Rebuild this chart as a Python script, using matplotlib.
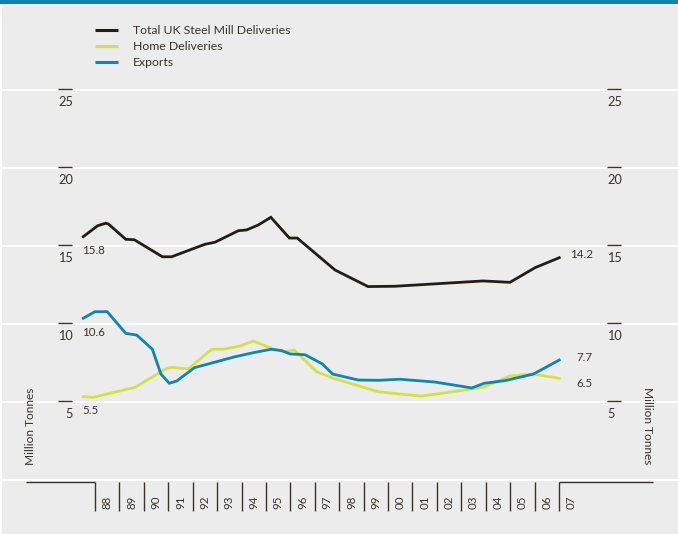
import matplotlib
matplotlib.use('Agg')
import matplotlib.pyplot as plt
from matplotlib.lines import Line2D
from matplotlib.patches import Rectangle

# ---------------- data ----------------
series_names = ['Total UK Steel Mill Deliveries', 'Home Deliveries', 'Exports']

total_x = [1987.52, 1988.11, 1988.44, 1988.55, 1989.26, 1989.61, 1990.76, 1991.14,
           1992.50, 1992.91, 1993.87, 1994.21, 1994.69, 1995.20, 1995.96, 1996.28,
           1997.83, 1999.18, 2000.29, 2003.90, 2004.99, 2006.02, 2007.01]
total_y = [15.60, 16.30, 16.46, 16.41, 15.43, 15.40, 14.31, 14.31,
           15.11, 15.24, 15.98, 16.03, 16.35, 16.84, 15.51, 15.51,
           13.46, 12.40, 12.42, 12.76, 12.67, 13.61, 14.25]

home_x = [1987.52, 1987.93, 1989.64, 1990.94, 1991.14, 1991.82, 1992.78, 1993.25,
          1993.94, 1994.48, 1995.24, 1995.78, 1996.16, 1997.08, 1997.76, 1999.60,
          2000.49, 2001.38, 2003.90, 2004.99, 2005.95, 2007.01]
home_y = [5.34, 5.30, 5.94, 7.16, 7.22, 7.12, 8.38, 8.38,
          8.59, 8.91, 8.44, 8.22, 8.33, 6.94, 6.52, 5.66,
          5.51, 5.38, 5.94, 6.67, 6.79, 6.52]

export_x = [1987.52, 1988.00, 1988.50, 1989.26, 1989.71, 1990.35, 1990.70, 1991.04,
            1991.35, 1992.07, 1993.73, 1994.48, 1995.21, 1995.65, 1995.99, 1996.60,
            1997.31, 1997.73, 1998.78, 1999.60, 2000.49, 2001.92, 2003.43, 2003.94,
            2004.79, 2005.95, 2007.01]
export_y = [10.37, 10.79, 10.79, 9.40, 9.29, 8.38, 6.79, 6.20,
            6.35, 7.20, 7.90, 8.16, 8.38, 8.29, 8.08, 8.03,
            7.44, 6.79, 6.41, 6.39, 6.46, 6.28, 5.90, 6.20,
            6.37, 6.79, 7.69]

start_labels = ['15.8', '5.5', '10.6']
end_labels = ['14.2', '6.5', '7.7']

years = list(range(1988, 2008))
year_labels = ['88', '89', '90', '91', '92', '93', '94', '95', '96', '97',
               '98', '99', '00', '01', '02', '03', '04', '05', '06', '07']
y_ticks = [5, 10, 15, 20, 25]
axis_title = 'Million Tonnes'

# ---------------- style ----------------
W, H, DPI = 678, 534, 100
BG = '#ebeceb'
BAR = '#0a86b6'
TXT = '#3a3328'
C_TOTAL = '#261d12'
C_HOME = '#d6e043'
C_EXP = '#0b86b8'
plt.rcParams['font.family'] = ['Lato', 'DejaVu Sans']

PPY = 24.4211   # px per year
PPV = 15.6      # px per million tonnes
X0PX, Y0PX = 95, 480

def px2x(px):
    return 1988 + (px - X0PX) / PPY

def py2y(py):
    return (Y0PX - py) / PPV

fig = plt.figure(figsize=(W / DPI, H / DPI), dpi=DPI, facecolor='white')
fig.patches.append(Rectangle((2 / W, 0), 1 - 2 / W, 1, transform=fig.transFigure,
                             facecolor=BG, edgecolor='none', zorder=-2))
fig.patches.append(Rectangle((0, 1 - 3.5 / H), 1, 3.5 / H, transform=fig.transFigure,
                             facecolor=BAR, edgecolor='none', zorder=-1))

ax = fig.add_axes([0, 0, 1, 1])
ax.set_axis_off()
ax.set_xlim(px2x(0), px2x(W))
ax.set_ylim(py2y(H), py2y(0))

# gridlines
for v in [0] + y_ticks:
    ax.axhline(v, xmin=2 / W, xmax=1, color='white', lw=1.3, zorder=1)

# y tick marks + labels (both sides)
for v in y_ticks:
    ax.plot([px2x(58), px2x(72)], [v + 0.05, v + 0.05], color=TXT, lw=1.0, zorder=2,
            solid_capstyle='butt')
    ax.plot([px2x(607), px2x(621)], [v + 0.05, v + 0.05], color=TXT, lw=1.0, zorder=2,
            solid_capstyle='butt')
    ax.text(px2x(73), v - 12.5 / PPV, str(v), ha='right', va='center', fontsize=9.2, color=TXT)
    ax.text(px2x(607), v - 12.5 / PPV, str(v), ha='left', va='center', fontsize=9.2, color=TXT)

# x axis bracket and separators
ax.vlines(years, py2y(511), py2y(481.5), color=TXT, lw=1.0, zorder=2)
ax.plot([px2x(26), years[0]], [py2y(481.5)] * 2, color=TXT, lw=1.0, zorder=2,
        solid_capstyle='butt')
ax.plot([years[-1], px2x(653)], [py2y(481.5)] * 2, color=TXT, lw=1.0, zorder=2,
        solid_capstyle='butt')
for yr, lab in zip(years, year_labels):
    ax.text(yr + 0.5, py2y(502), lab, rotation=90, ha='center', va='center',
            fontsize=8.3, color=TXT)

# data lines
series = [(total_x, total_y, C_TOTAL), (home_x, home_y, C_HOME), (export_x, export_y, C_EXP)]
for (xs, ys, c) in series:
    ax.plot(xs, ys, color=c, lw=2.0, zorder=3, solid_joinstyle='miter')

# start / end labels
end_offsets = [(11, 3), (17, -5), (17, 3)]
for (xs, ys, c), sl, el, eo in zip(series, start_labels, end_labels, end_offsets):
    ax.annotate(sl, xy=(xs[0], ys[0]), xytext=(-1, -14 * 0.72), textcoords='offset points',
                ha='left', va='center', fontsize=8.3, color=TXT)
    ax.annotate(el, xy=(xs[-1], ys[-1]), xytext=(eo[0] * 0.72, eo[1] * 0.72),
                textcoords='offset points', ha='left', va='center', fontsize=8.3, color=TXT)

# axis titles
fig.text(31 / W, 1 - 426 / H, axis_title, rotation=90, ha='center', va='center',
         fontsize=8.6, color=TXT)
fig.text(648 / W, 1 - 426 / H, axis_title, rotation=270, ha='center', va='center',
         fontsize=8.6, color=TXT)

# legend
for i, (name, (_, _, c)) in enumerate(zip(series_names, series)):
    yy = 1 - (30 + 16 * i) / H
    fig.add_artist(Line2D([95 / W, 118 / W], [yy, yy], transform=fig.transFigure,
                          color=c, lw=2.2, solid_capstyle='butt'))
    fig.text(133 / W, yy, name, ha='left', va='center', fontsize=8.8, color=TXT)

fig.savefig('out.png', dpi=DPI, facecolor=fig.get_facecolor())
